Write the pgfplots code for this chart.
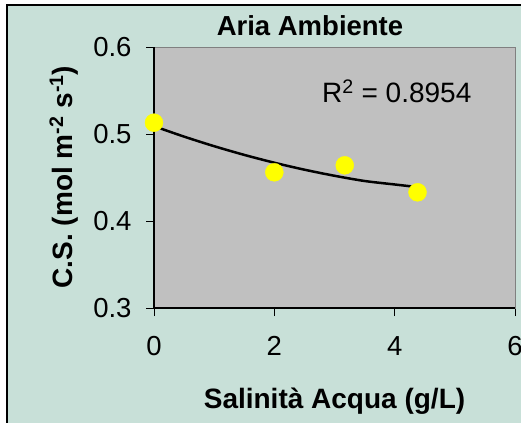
\documentclass[border=0pt]{standalone}
\usepackage{pgfplots}
\pgfplotsset{compat=1.18}
\usepackage{fontspec}
\setmainfont{Liberation Sans}
\definecolor{chartbg}{RGB}{200,224,216}
\definecolor{plotbg}{RGB}{192,192,192}
\definecolor{frameg}{RGB}{128,128,128}
\definecolor{dotyellow}{RGB}{255,255,0}

\begin{document}
\begin{tikzpicture}[x=1bp,y=1bp]
\useasboundingbox (0,0) rectangle (521,-422);
\clip (0,0) rectangle (521,-422);
% chart area
\fill[chartbg] (7,-5) rectangle (560,-460);
\draw[line width=1.5bp] (7,-460) -- (7,-5) -- (560,-5);
\begin{axis}[
  at={(154bp,-308bp)}, anchor=south west,
  width=361bp, height=261bp, scale only axis,
  xmin=0, xmax=6, ymin=0.3, ymax=0.6,
  xtick={0,2,4,6}, ytick={0.3,0.4,0.5,0.6},
  axis background/.style={fill=plotbg},
  axis line style={draw=frameg, line width=1bp},
  tick align=outside, xtick pos=bottom, ytick pos=left,
  major tick length=8bp,
  every tick/.style={black, line width=1bp},
  /pgf/number format/assume math mode=true,
  ticklabel style={font=\fontsize{27.5bp}{32bp}\selectfont},
  xticklabel style={yshift=-17bp},
  yticklabel style={xshift=-11bp, /pgf/number format/.cd, fixed, fixed zerofill, precision=1},
  clip=false,
]
\draw[black, line width=1.2bp] (rel axis cs:0,1) -- (rel axis cs:0,0) -- (rel axis cs:1,0);
% measured values
\addplot[only marks, mark=*, mark size=9bp, mark options={fill=dotyellow, draw=dotyellow}]
  coordinates {(0,0.513) (2,0.456) (3.17,0.464) (4.38,0.433)};
% trend line
\addplot[black, line width=2.5bp, smooth]
  coordinates {(0,0.509) (0.5,0.497) (1,0.486) (1.5,0.476) (2,0.467) (2.5,0.459)
               (3,0.452) (3.5,0.446) (4,0.442) (4.38,0.439)};
\end{axis}
\node[anchor=base, inner sep=0pt, font=\bfseries\fontsize{27.5bp}{32bp}\selectfont] at (310,-35) {Aria Ambiente};
\node[anchor=base west, inner sep=0pt, font=\fontsize{28bp}{32bp}\selectfont] at (322,-102) {R\textsuperscript{2} = 0.8954};
\node[anchor=base, inner sep=0pt, font=\bfseries\fontsize{28bp}{32bp}\selectfont] at (334.5,-408) {Salinità Acqua (g/L)};
\node[anchor=base, inner sep=0pt, rotate=90, font=\bfseries\fontsize{28bp}{32bp}\selectfont] at (72,-177) {C.S. (mol m\textsuperscript{-2} s\textsuperscript{-1})};
\end{tikzpicture}
\end{document}
